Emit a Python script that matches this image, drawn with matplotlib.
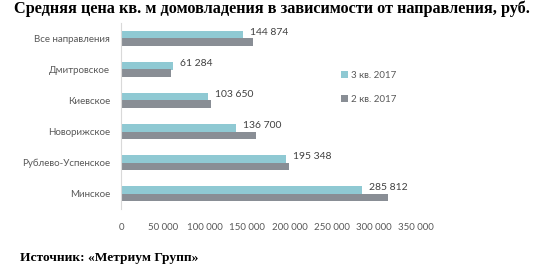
import numpy as np
import matplotlib.pyplot as plt

# категории снизу вверх
regions = ['Минское', 'Рублево-Успенское', 'Новорижское', 'Киевское',
           'Дмитровское', 'Все направления']
q3_2017 = [285812, 195348, 136700, 103650, 61284, 144874]
q2_2017 = [316700, 198800, 160700, 107000, 59500, 157000]
labels_q3 = ['285 812', '195 348', '136 700', '103 650', '61 284', '144 874']
xticks = [0, 50000, 100000, 150000, 200000, 250000, 300000, 350000]
xtick_labels = ['0', '50 000', '100 000', '150 000', '200 000', '250 000',
                '300 000', '350 000']

c_q3 = '#8fc9d3'
c_q2 = '#898e95'
txt = '#595959'

fig = plt.figure(figsize=(5.43, 2.67), dpi=100)
ax = fig.add_axes([121/543, 1-209/267, (416-121)/543, 186/267])

y = np.arange(len(regions))
h = 0.24
ax.barh(y + h/2, q3_2017, height=h, color=c_q3, label='3 кв. 2017')
ax.barh(y - h/2, q2_2017, height=h, color=c_q2, label='2 кв. 2017')

for yi, v, s in zip(y, q3_2017, labels_q3):
    ax.annotate(s, (v, yi + h/2), xytext=(5, 1.5), textcoords='offset points',
                ha='left', va='center', fontsize=7.5, color='#404040', family='Lato')

ax.set_xlim(0, 350000)
ax.set_ylim(-0.5, len(regions) - 0.5)
ax.set_xticks(xticks)
ax.set_xticklabels(xtick_labels)
ax.set_yticks(y)
ax.set_yticklabels(regions)
ax.tick_params(length=0, colors=txt, labelsize=7)
ax.tick_params(axis='x', pad=10)
ax.tick_params(axis='y', pad=8)
for lab in ax.get_xticklabels() + ax.get_yticklabels():
    lab.set_family('Lato')
for sp in ['top', 'right', 'bottom']:
    ax.spines[sp].set_visible(False)
ax.spines['left'].set_color('#d9d9d9')

leg = fig.legend(loc='upper left', bbox_to_anchor=(332/543, 1-62/267),
                 frameon=False, handlelength=0.7, handleheight=0.7,
                 labelspacing=1.6, handletextpad=0.4,
                 prop={'family': 'Lato', 'size': 7})
for t in leg.get_texts():
    t.set_color(txt)

fig.text(0.5, 1-9/267, 'Средняя цена кв. м домовладения в зависимости от направления, руб.',
         ha='center', va='center', fontsize=11.7, fontweight='bold',
         family='Liberation Serif')
fig.text(20/543, 1-258/267, 'Источник: «Метриум Групп»', ha='left', va='center',
         fontsize=9.6, fontweight='bold', family='Liberation Serif')

fig.savefig('out.png', dpi=100)
